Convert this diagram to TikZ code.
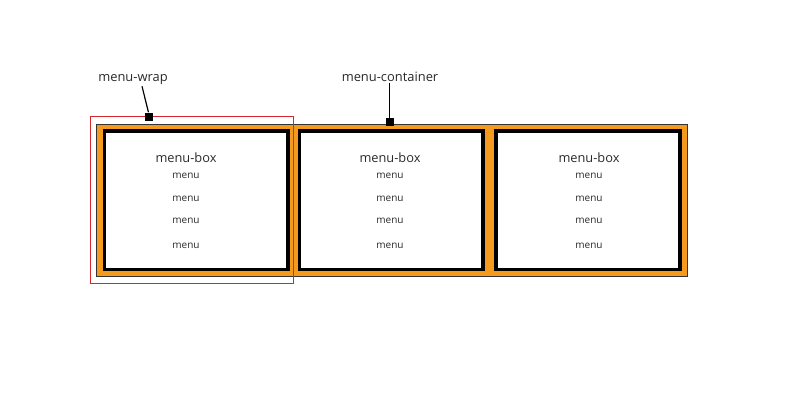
\documentclass[tikz,border=0pt]{standalone}
\usepackage{fontspec}
\setmainfont{Open Sans}
\definecolor{boxorange}{HTML}{F39A1F}
\definecolor{wrapred}{HTML}{D8262E}
\definecolor{txtgray}{HTML}{2A2A2A}
\begin{document}
\begin{tikzpicture}[x=1pt,y=-1pt,
  container/.style={draw=black!80,line width=0.9pt,fill=boxorange},
  menubox/.style={draw=black,line width=3.6pt,fill=white},
  wrapbox/.style={draw=wrapred,line width=1pt},
  boxtitle/.style={font=\fontsize{12.8}{14}\selectfont,text=txtgray,inner sep=0pt},
  item/.style={font=\fontsize{10}{11}\selectfont,text=txtgray,inner sep=0pt},
  label/.style={font=\fontsize{12.9}{14}\selectfont,text=txtgray,inner sep=1pt},
  marker/.style={fill=black,minimum size=8pt,inner sep=0pt,draw=none},
  pointer/.style={draw=black,line width=1.2pt}]
\useasboundingbox (0,0) rectangle (800,400);
\fill[white] (0,0) rectangle (800,400);
% container
\draw[container] (96,124) rectangle (687,276);
% menu boxes
\draw[menubox] (104.5,131) rectangle (288,269.5);
\draw[menubox] (299.5,131) rectangle (483,269.5);
\draw[menubox] (496,131) rectangle (680,269.5);
% wrap
\draw[wrapbox] (90,116.5) rectangle (293,283.5);
% texts
\foreach \cx/\n in {186/a,390/b,589/c}{
  \node[boxtitle] (title\n) at (\cx,157.5) {menu-box};
  \node[item] (m1\n) at (\cx,176) {menu};
  \node[item] (m2\n) at (\cx,198.5) {menu};
  \node[item] (m3\n) at (\cx,221) {menu};
  \node[item] (m4\n) at (\cx,245.5) {menu};
}
% markers and labels
\node[marker] (wrapmark) at (148.5,116.5) {};
\node[marker] (contmark) at (389.5,122) {};
\node[label] (wraplabel) at (133,80) {menu-wrap};
\node[label] (contlabel) at (390,76.5) {menu-container};
\draw[pointer] (wraplabel.south) ++(9,0) coordinate (wl) -- (wrapmark.north);
\draw[pointer] (contlabel.south -| contmark.north) -- (contmark.north);
\end{tikzpicture}
\end{document}
